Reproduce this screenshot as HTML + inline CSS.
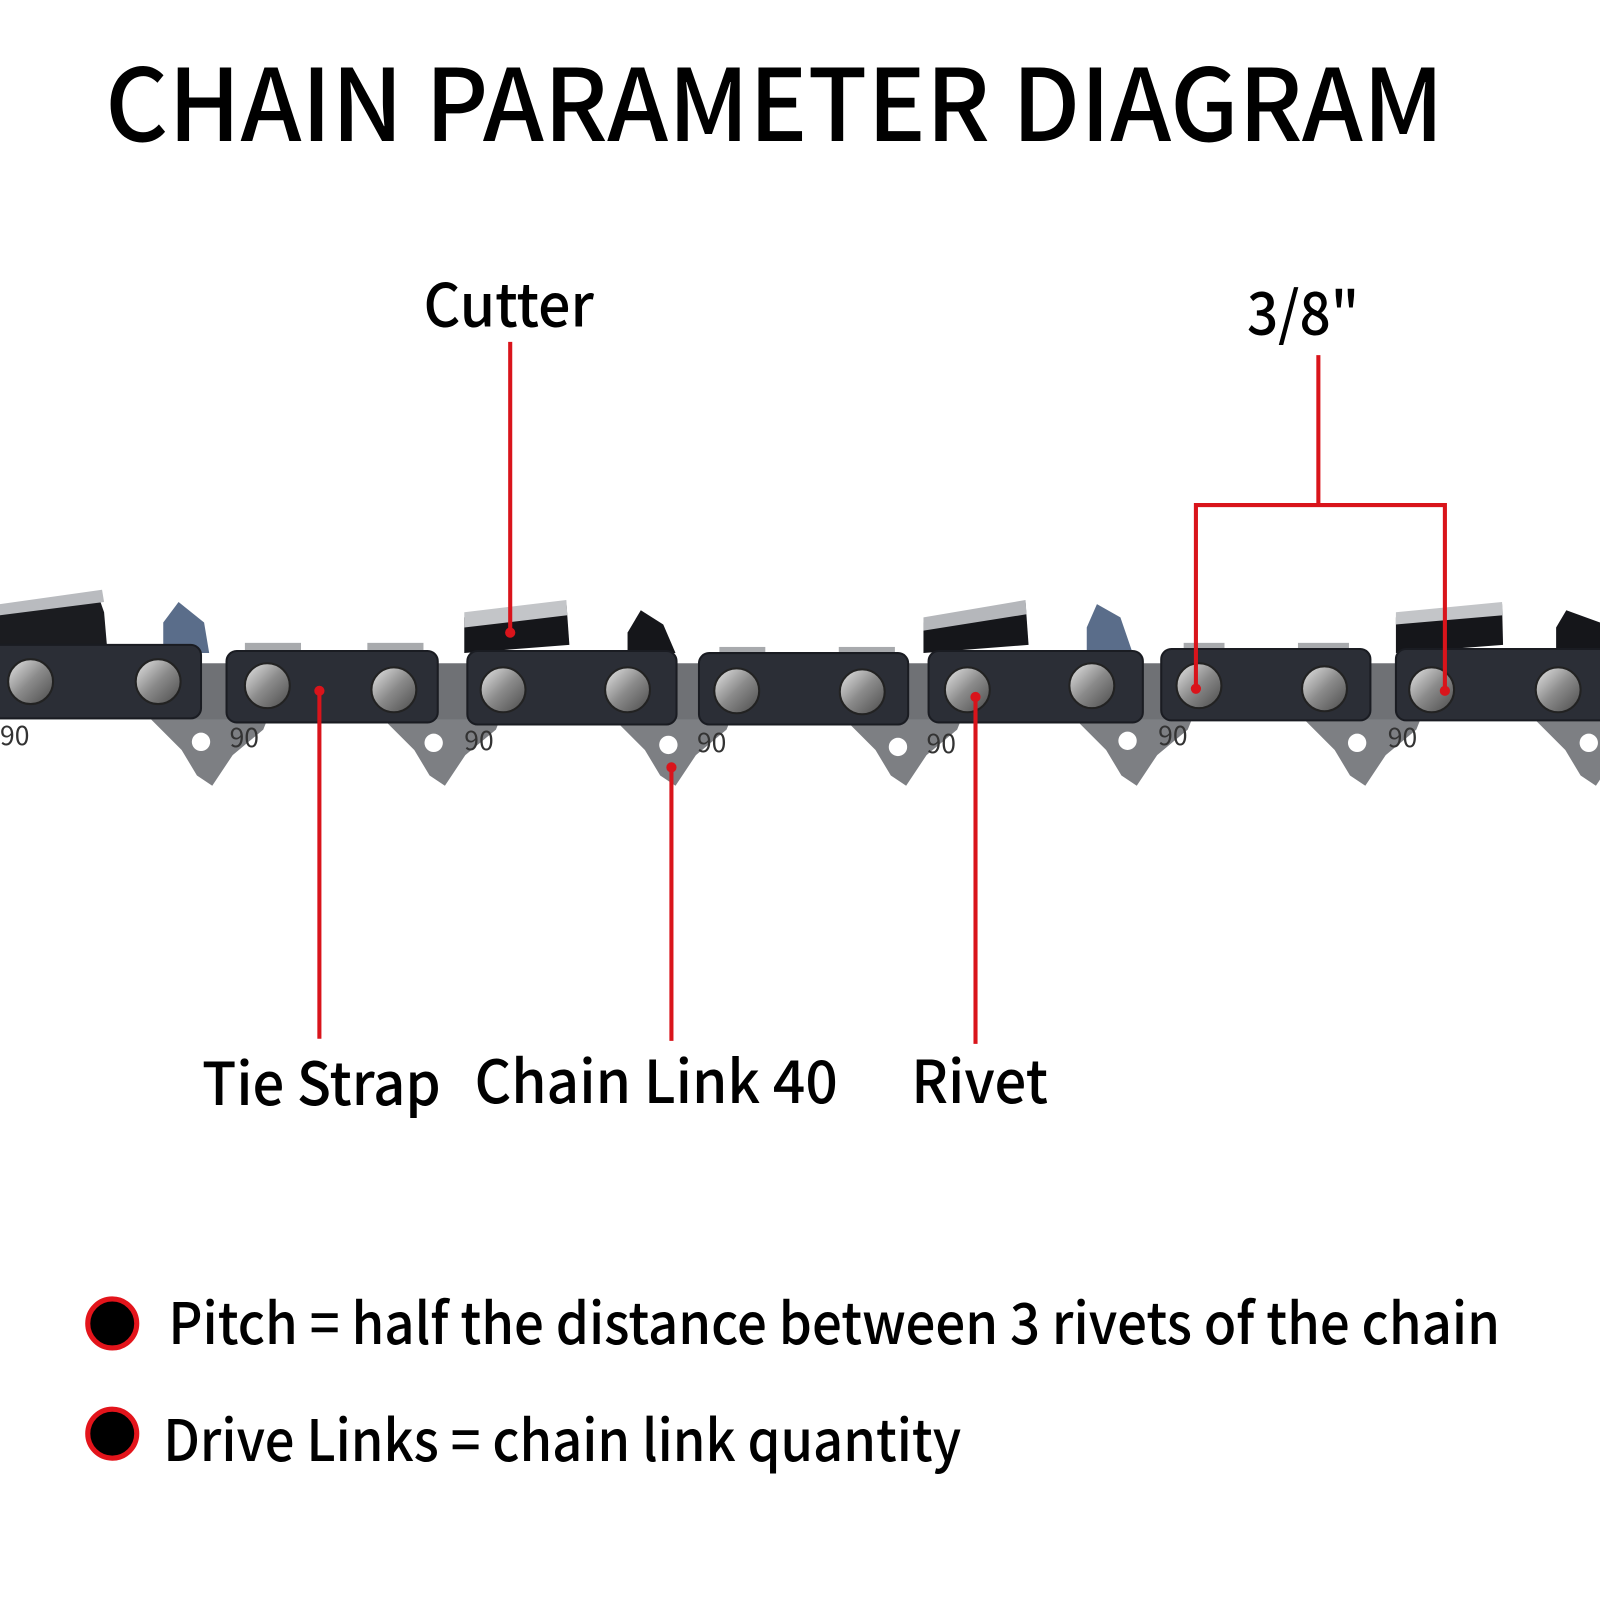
<!DOCTYPE html>
<html><head><meta charset="utf-8"><style>
html,body{margin:0;padding:0;background:#fff}
svg{display:block}
text{font-family:"Noto Sans CJK SC","Liberation Sans",sans-serif;fill:#000}
</style></head><body>
<svg width="1600" height="1600" viewBox="0 0 1568 1568" xmlns="http://www.w3.org/2000/svg">
<rect width="1568" height="1568" fill="#fff"/>
<text x="103" y="138" font-size="98" font-weight="500" textLength="1312" lengthAdjust="spacingAndGlyphs">CHAIN PARAMETER DIAGRAM</text>

<defs>
<linearGradient id="riv" x1="0" y1="0" x2="1" y2="1">
<stop offset="0" stop-color="#e8e8e8"/><stop offset="0.5" stop-color="#8a8a8a"/><stop offset="1" stop-color="#4a4a4a"/>
</linearGradient>
<g id="tooth">
<polygon points="-85,690 40,690 30,715 0,740 -20,770 -35,760 -50,735 -85,700" fill="#7d7f83"/>
</g>
</defs>

<g>
<use href="#tooth" x="228"/><use href="#tooth" x="456"/><use href="#tooth" x="682"/>
<use href="#tooth" x="908"/><use href="#tooth" x="1134"/><use href="#tooth" x="1358"/><use href="#tooth" x="1584"/>
<rect x="0" y="650" width="1568" height="55" fill="#6f7175"/>
</g>
<g fill="#fff">
<circle cx="197" cy="727" r="9"/><circle cx="425" cy="728" r="9"/><circle cx="655" cy="730" r="9"/>
<circle cx="880" cy="732" r="9"/><circle cx="1105" cy="726" r="9"/><circle cx="1330" cy="728" r="9"/><circle cx="1557" cy="728" r="9"/>
</g>
<g font-size="26">
<text x="0" y="730" style="fill:#333">90</text><text x="225" y="732" style="fill:#333">90</text><text x="455" y="735" style="fill:#333">90</text>
<text x="683" y="737" style="fill:#333">90</text><text x="908" y="738" style="fill:#333">90</text><text x="1135" y="730" style="fill:#333">90</text><text x="1360" y="732" style="fill:#333">90</text>
</g>

<g>
<polygon points="0,595 95,580 102,600 105,635 0,635" fill="#1b1c20"/>
<polygon points="0,592 100,578 102,590 0,603" fill="#b9bbbf"/>
<polygon points="160,610 175,590 200,610 205,640 160,640" fill="#5a6d8a"/>
<polygon points="455,605 555,590 558,632 455,640" fill="#15161a"/>
<polygon points="455,600 555,588 556,603 455,615" fill="#c3c5c8"/>
<polygon points="615,620 628,598 650,612 662,640 615,640" fill="#15161a"/>
<polygon points="905,610 1005,590 1008,632 905,640" fill="#15161a"/>
<polygon points="905,605 1005,588 1006,602 905,618" fill="#b5b7bb"/>
<polygon points="1065,615 1075,592 1098,605 1110,640 1065,640" fill="#5a6d8a"/>
<polygon points="1368,605 1472,592 1473,632 1368,640" fill="#15161a"/>
<polygon points="1368,600 1472,590 1473,603 1368,612" fill="#c3c5c8"/>
<polygon points="1525,615 1535,598 1568,610 1568,640 1525,640" fill="#15161a"/>
</g>
<g fill="#a8aaad">
<rect x="240" y="630" width="55" height="10"/><rect x="360" y="630" width="55" height="10"/>
<rect x="705" y="634" width="45" height="10"/><rect x="822" y="634" width="55" height="10"/>
<rect x="1160" y="630" width="40" height="10"/><rect x="1272" y="630" width="50" height="10"/>
</g>
<g fill="#2b2e36" stroke="#1a1c22" stroke-width="2">
<rect x="-10" y="632" width="207" height="72" rx="10"/>
<rect x="222" y="638" width="207" height="70" rx="10"/>
<rect x="458" y="638" width="205" height="72" rx="10"/>
<rect x="685" y="640" width="205" height="70" rx="10"/>
<rect x="910" y="638" width="210" height="70" rx="10"/>
<rect x="1138" y="636" width="205" height="70" rx="10"/>
<rect x="1368" y="636" width="210" height="70" rx="10"/>
</g>
<g fill="url(#riv)" stroke="#222" stroke-width="2">
<circle cx="30" cy="668" r="22"/><circle cx="155" cy="668" r="22"/>
<circle cx="262" cy="672" r="22"/><circle cx="386" cy="676" r="22"/>
<circle cx="493" cy="676" r="22"/><circle cx="615" cy="676" r="22"/>
<circle cx="722" cy="677" r="22"/><circle cx="845" cy="678" r="22"/>
<circle cx="948" cy="676" r="22"/><circle cx="1070" cy="672" r="22"/>
<circle cx="1175" cy="672" r="22"/><circle cx="1298" cy="675" r="22"/>
<circle cx="1403" cy="676" r="22"/><circle cx="1527" cy="676" r="22"/>
</g>

<g stroke="#d9141b" stroke-width="4" fill="none">
<line x1="500" y1="335" x2="500" y2="620"/>
<line x1="313" y1="677" x2="313" y2="1018"/>
<line x1="658" y1="752" x2="658" y2="1020"/>
<line x1="956" y1="683" x2="956" y2="1023"/>
<polyline points="1172,675 1172,495 1416,495 1416,677"/>
<line x1="1292" y1="348" x2="1292" y2="495"/>
</g>
<g fill="#d9141b">
<circle cx="500" cy="620" r="5"/><circle cx="313" cy="677" r="5"/><circle cx="658" cy="752" r="5"/>
<circle cx="956" cy="683" r="5"/><circle cx="1172" cy="675" r="5"/><circle cx="1416" cy="677" r="5"/>
</g>

<g font-size="58" font-weight="500">
<text x="415" y="320" textLength="167" lengthAdjust="spacingAndGlyphs">Cutter</text>
<text x="1222" y="328" textLength="110" lengthAdjust="spacingAndGlyphs">3/8"</text>
<text x="198" y="1083" textLength="234" lengthAdjust="spacingAndGlyphs">Tie Strap</text>
<text x="465" y="1081" textLength="356" lengthAdjust="spacingAndGlyphs">Chain Link 40</text>
<text x="893" y="1081" textLength="134" lengthAdjust="spacingAndGlyphs">Rivet</text>
</g>

<g fill="#000" stroke="#e3141b" stroke-width="5">
<circle cx="110" cy="1297" r="24"/><circle cx="110" cy="1405" r="24"/>
</g>
<g font-size="56" font-weight="500">
<text x="165" y="1317" textLength="1305" lengthAdjust="spacingAndGlyphs">Pitch = half the distance between 3 rivets of the chain</text>
<text x="160" y="1432" textLength="782" lengthAdjust="spacingAndGlyphs">Drive Links = chain link quantity</text>
</g>
</svg>
</body></html>
